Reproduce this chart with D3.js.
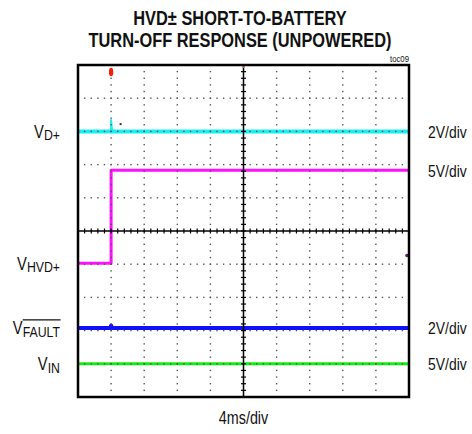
<!DOCTYPE html>
<html>
<head>
<meta charset="utf-8">
<script src="https://cdn.jsdelivr.net/npm/d3@7"></script>
<style>
  body { margin: 0; background: #fff; }
  svg { display: block; }
  text { font-family: 'Liberation Sans', Arial, sans-serif; fill: #111; }
</style>
</head>
<body>
<div id="chart"></div>
<script>
// time in ms (4ms/div, trigger at centre), values in volts
var timeDomain = [-20, 20];
var divDomain = [-5, 5];

// channel settings: name, subscript, volts per div, ground offset (div), colour
var chNames = ["V", "V", "V", "V"];
var chSubs = ["D+", "HVD+", "FAULT", "IN"];
var chVoltsPerDiv = [2, 5, 2, 5];
var chOffsets = [3.0, -0.97, -2.92, -4.0];
var chColors = ["#18f0f0", "#ff10ff", "#1010ff", "#10f010"];
var chWidths = [4, 3, 4, 3];

// VD+ (cyan) plus its short glitch at turn-off
var vdTime = [-20, 20];
var vdVolts = [0, 0];
var vdSpikeTime = [-16.0, -16.0, -15.9, -15.6];
var vdSpikeVolts = [0, 0.68, 0.12, 0];
// VHVD+ (magenta)
var hvdTime = [-20, -16.0, -16.0, 20];
var hvdVolts = [0, 0, 14, 14];
// VFAULT (blue)
var faultTime = [-20, -16.05, -16.0, -15.9, 20];
var faultVolts = [0, 0, 0.15, 0, 0];
// VIN (green)
var inTime = [-20, 20];
var inVolts = [0, 0];

var series = [
  { t: vdTime, v: vdVolts },
  { t: hvdTime, v: hvdVolts },
  { t: faultTime, v: faultVolts },
  { t: inTime, v: inVolts }
];

var titleLines = ["HVD\u00b1 SHORT-TO-BATTERY", "TURN-OFF RESPONSE (UNPOWERED)"];
var timeLabel = "4ms/div";
var noteLabel = "toc09";

var width = 472, height = 434;
var margin = { top: 65, right: 63, bottom: 37, left: 78 };
var squeeze = 0.82; // the original uses a narrow face

var svg = d3.select("#chart").append("svg")
  .attr("width", width).attr("height", height);

var xScale = d3.scaleLinear().domain(timeDomain).range([margin.left, width - margin.right]);
var yScale = d3.scaleLinear().domain(divDomain).range([height - margin.bottom, margin.top]);

// narrow text: group placed at x,y and squeezed horizontally
function narrowText(x, y) {
  return svg.append("g")
    .attr("transform", "translate(" + x + "," + y + ") scale(" + squeeze + ",1)");
}

// title
titleLines.forEach(function(d, i) {
  narrowText(240, 25 + i * 21.5).append("text")
    .attr("text-anchor", "middle")
    .style("font-weight", "bold")
    .style("font-size", "20px")
    .text(d);
});

narrowText(xScale(20), 62).append("text")
  .attr("text-anchor", "end")
  .style("font-size", "9.5px")
  .text(noteLabel);

// traces
var line = d3.line()
  .x(function(d) { return xScale(d[0]); })
  .y(function(d) { return d[1]; });

function trace(t, v, i, w) {
  var pts = t.map(function(tt, j) {
    return [tt, yScale(chOffsets[i] + v[j] / chVoltsPerDiv[i])];
  });
  svg.append("path")
    .attr("d", line(pts))
    .attr("fill", "none")
    .attr("stroke", chColors[i])
    .attr("stroke-width", w)
    .attr("stroke-linejoin", "round");
}

series.forEach(function(s, i) { trace(s.t, s.v, i, chWidths[i]); });
trace(vdSpikeTime, vdSpikeVolts, 0, 2);

// grid dots
var minorX = d3.range(-20, 20.001, 0.8);
var minorY = d3.range(-5, 5.001, 0.2);
var gridX = d3.range(-16, 17, 4).filter(function(d) { return d != 0; });
var gridY = d3.range(-4, 5, 1).filter(function(d) { return d != 0; });

var dots = svg.append("g").attr("fill", "#555");
gridX.forEach(function(gx) {
  dots.selectAll(null).data(minorY).enter().append("rect")
    .attr("x", xScale(gx) - 0.7).attr("y", function(d) { return yScale(d) - 0.7; })
    .attr("width", 1.4).attr("height", 1.4);
});
gridY.forEach(function(gy) {
  dots.selectAll(null).data(minorX).enter().append("rect")
    .attr("x", function(d) { return xScale(d) - 0.7; }).attr("y", yScale(gy) - 0.7)
    .attr("width", 1.4).attr("height", 1.4);
});

// centre axes with minor ticks
var axisG = svg.append("g").attr("stroke", "#000");
axisG.append("line")
  .attr("x1", xScale(-20)).attr("x2", xScale(20))
  .attr("y1", yScale(0)).attr("y2", yScale(0)).attr("stroke-width", 1.5);
axisG.append("line")
  .attr("x1", xScale(0)).attr("x2", xScale(0))
  .attr("y1", yScale(-5)).attr("y2", yScale(5)).attr("stroke-width", 1.5);
axisG.selectAll(".tx").data(minorX).enter().append("line")
  .attr("x1", function(d) { return xScale(d); }).attr("x2", function(d) { return xScale(d); })
  .attr("y1", yScale(0) - 2.5).attr("y2", yScale(0) + 2.5).attr("stroke-width", 1.2);
axisG.selectAll(".ty").data(minorY).enter().append("line")
  .attr("y1", function(d) { return yScale(d); }).attr("y2", function(d) { return yScale(d); })
  .attr("x1", xScale(0) - 2.5).attr("x2", xScale(0) + 2.5).attr("stroke-width", 1.2);

// stray dots
svg.append("rect").attr("x", xScale(-14.85) - 1).attr("y", yScale(chOffsets[0] + 0.22) - 1)
  .attr("width", 2).attr("height", 2).attr("fill", "#333");
svg.append("circle").attr("cx", xScale(19.75)).attr("cy", yScale(-0.74)).attr("r", 1.7).attr("fill", "#602060");

// markers
svg.append("ellipse").attr("cx", xScale(-16)).attr("cy", 72)
  .attr("rx", 2.2).attr("ry", 4.3).attr("fill", "#f02010");
svg.append("rect").attr("x", xScale(0) - 1).attr("y", margin.top).attr("width", 2).attr("height", 3).attr("fill", "#e06010");

// frame
svg.append("rect")
  .attr("x", xScale(-20)).attr("y", yScale(5))
  .attr("width", xScale(20) - xScale(-20)).attr("height", yScale(-5) - yScale(5))
  .attr("fill", "none").attr("stroke", "#000").attr("stroke-width", 2.5);

// channel labels left
chNames.forEach(function(n, i) {
  var g = narrowText(60, yScale(chOffsets[i]) + 6.5);
  var t = g.append("text")
    .attr("text-anchor", "end")
    .style("font-size", "18px");
  t.append("tspan").text(n);
  t.append("tspan").attr("dy", 2.5).style("font-size", "15px").text(chSubs[i]);
  if (chSubs[i] == "FAULT") {
    var node = t.node();
    var first = node.getExtentOfChar(1);
    var bb = node.getBBox();
    g.append("line")
      .attr("x1", first.x).attr("x2", bb.x + bb.width)
      .attr("y1", -14.5).attr("y2", -14.5)
      .attr("stroke", "#111").attr("stroke-width", 1.3);
  }
});

// volts/div labels right
chVoltsPerDiv.forEach(function(v, i) {
  var yv = i == 1 ? yScale(chOffsets[i] + 14 / v) : yScale(chOffsets[i]);
  narrowText(428, yv + 6.5).append("text")
    .style("font-size", "17px")
    .text(v + "V/div");
});

narrowText(xScale(0), 424).append("text")
  .attr("text-anchor", "middle")
  .style("font-size", "17.5px")
  .text(timeLabel);
</script>
</body>
</html>
